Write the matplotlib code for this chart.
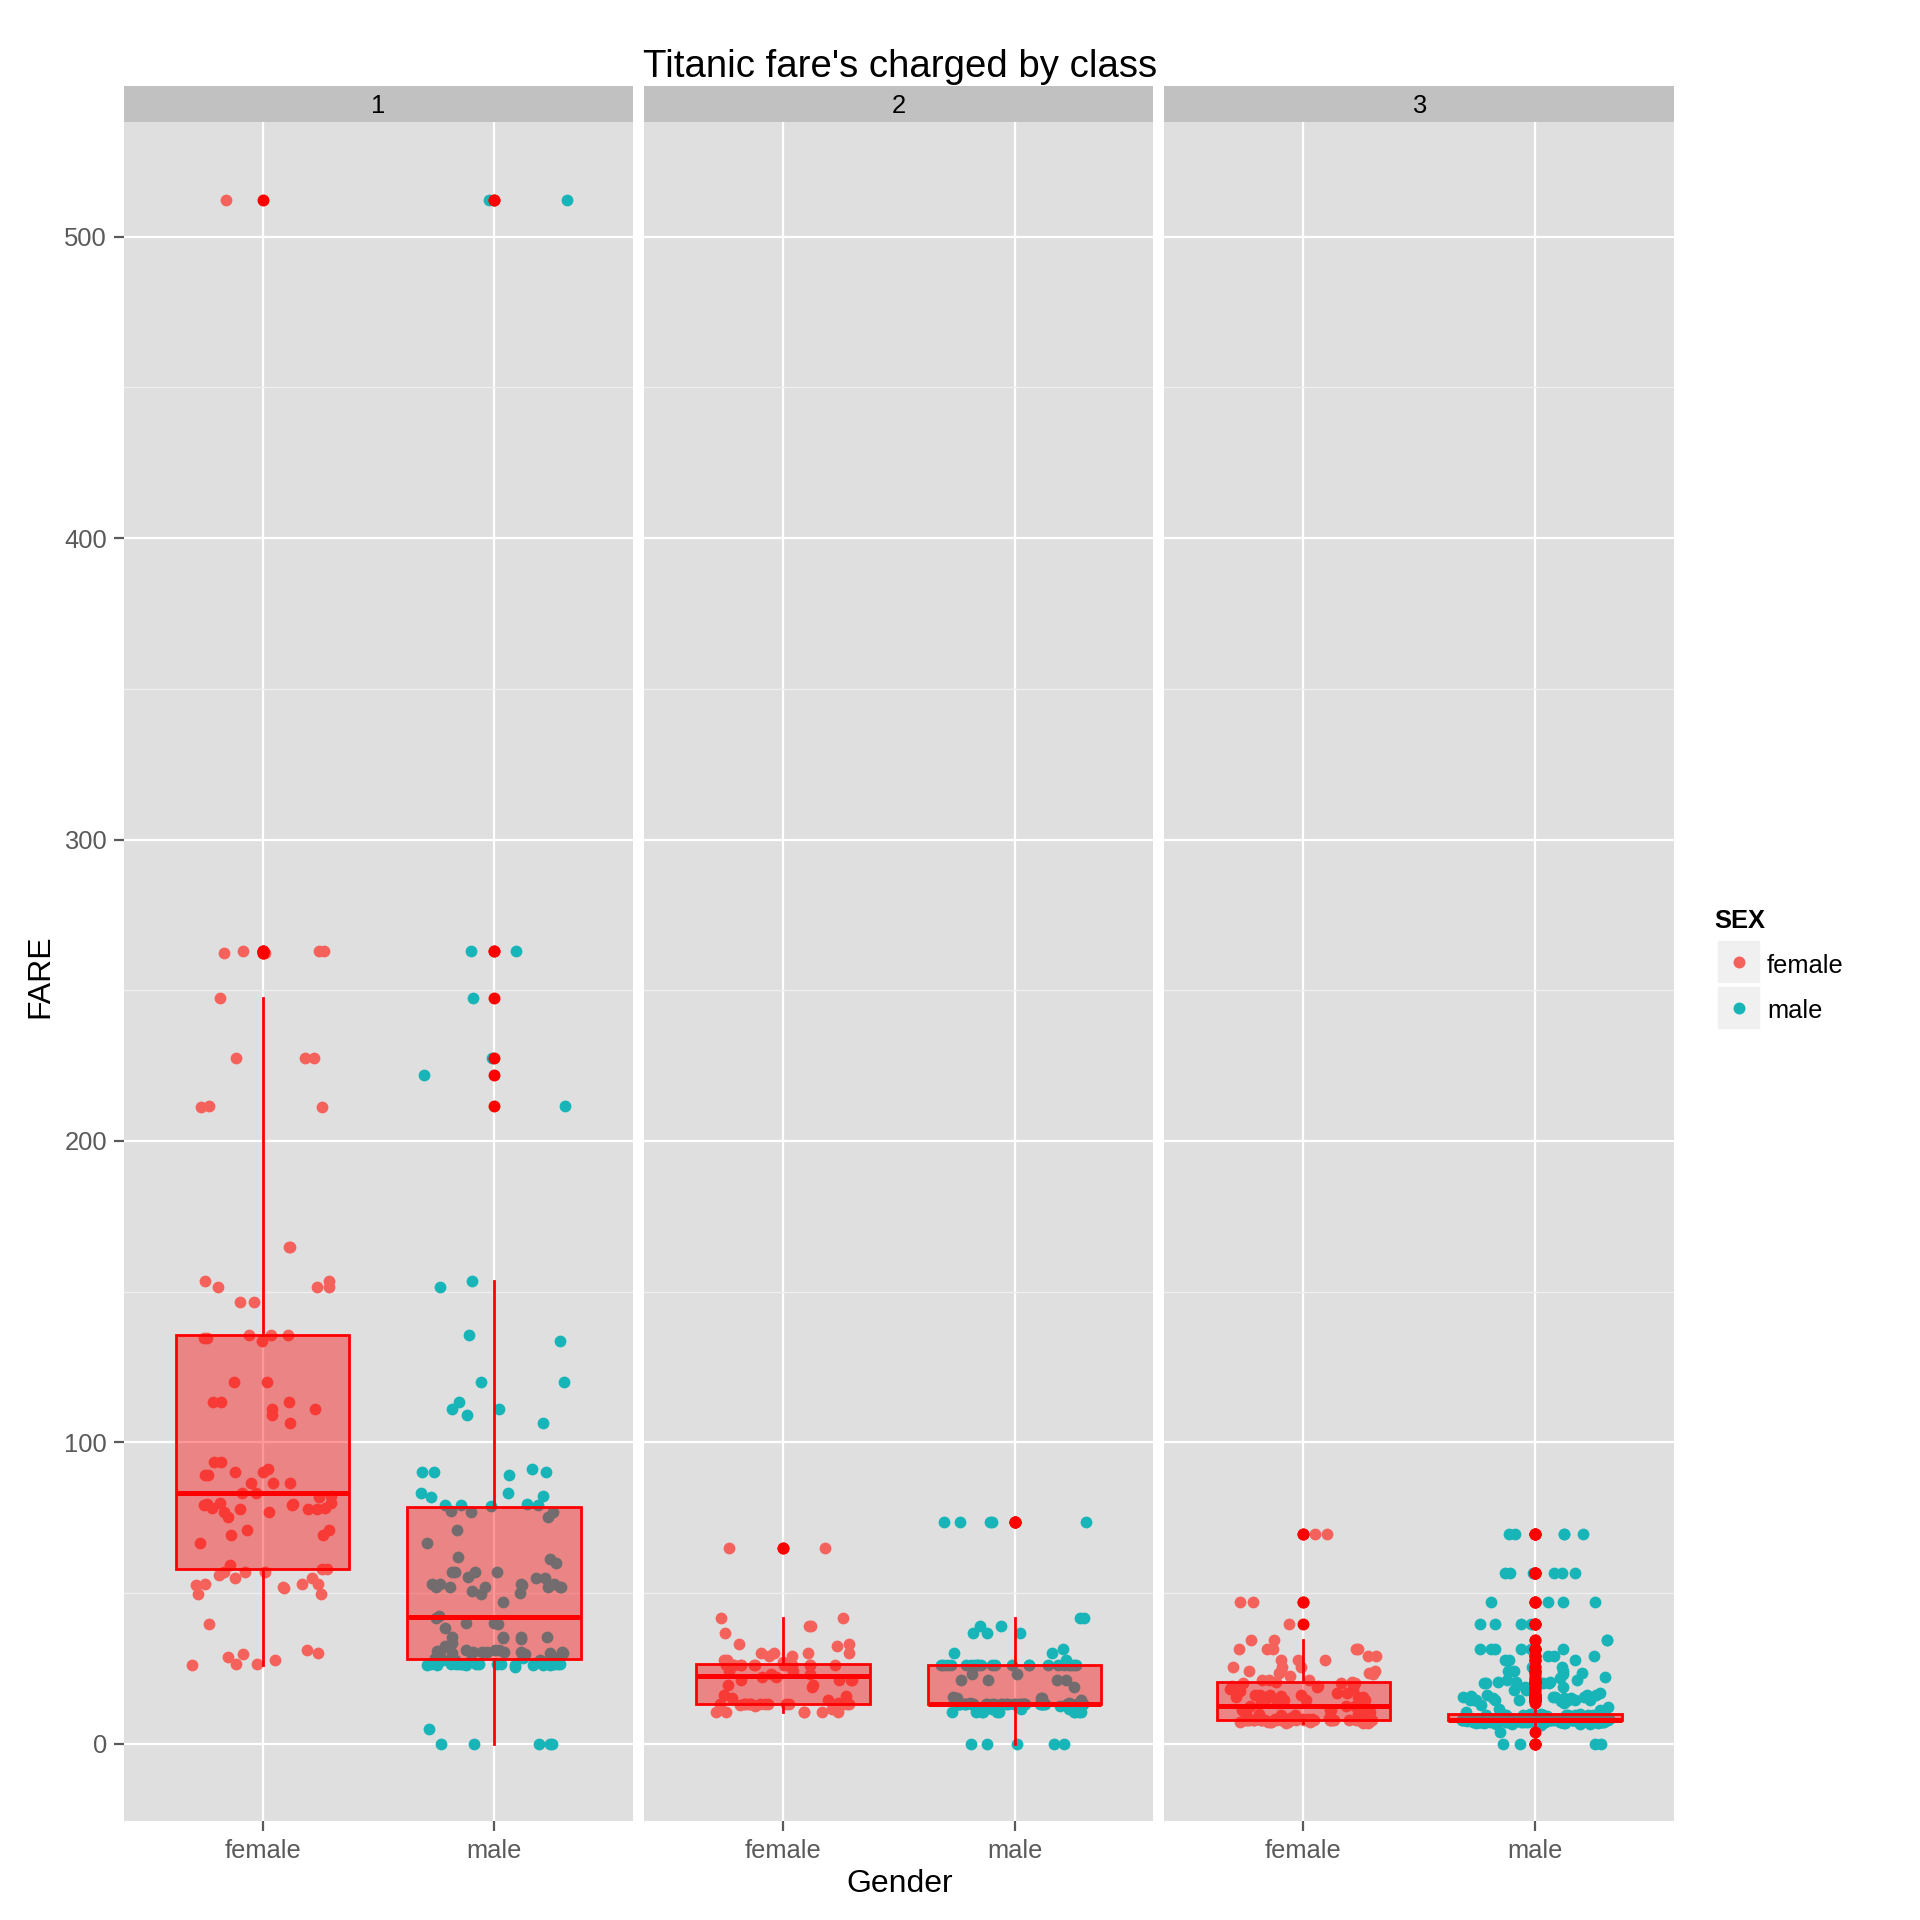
import numpy as np
import matplotlib
matplotlib.use('Agg')
import matplotlib.pyplot as plt
from matplotlib.patches import Rectangle
from matplotlib.lines import Line2D

plt.rcParams['font.family'] = ['Liberation Sans', 'DejaVu Sans']

classes = ['1', '2', '3']
genders = ['female', 'male']
colors = {'female': '#F5625C', 'male': '#17B4B8'}

# fares, one entry per passenger
fare_c1_female = ([25.9292, 26.2833, 26.55, 27.7208, 28.7125, 29.7, 30.0, 31.0, 39.6,
                   49.5, 49.5042, 51.4792, 51.8625, 52.5542] + [53.1]*3 + [55.0]*2 + [55.9]
                  + [56.9292]*2 + [57.0] + [57.9792]*2 + [59.4, 66.6] + [69.3]*2 + [71.0]*2
                  + [75.25] + [76.7292]*2 + [77.9583]*3 + [78.2667]*2 + [79.2]*2 + [79.65]*2
                  + [80.0]*2 + [81.8583, 82.1708] + [83.1583]*2 + [86.5]*3 + [89.1]*2 + [90.0]*2
                  + [91.0792] + [93.5]*2 + [106.425, 108.9] + [110.8833]*2 + [113.275]*3
                  + [120.0]*2 + [133.65] + [134.5]*2 + [135.6333]*3 + [146.5208]*2 + [151.55]*3
                  + [153.4625]*2 + [164.8667]*2 + [211.3375]*2 + [211.5] + [227.525]*3
                  + [247.5208] + [262.375]*2 + [263.0]*3 + [512.3292])

fare_c1_male = ([0.0]*5 + [5.0, 25.5875, 25.925] + [26.0]*6 + [26.2875]*3 + [26.55]*11
                + [27.7208]*3 + [27.75]*2 + [28.5]*3 + [29.7]*2 + [30.0]*3 + [30.5]*6
                + [30.6958]*2 + [31.0]*3 + [32.3208, 33.5, 34.6542, 35.0] + [35.5]*4
                + [38.5, 39.6] + [40.125]*2 + [41.5792, 42.4, 47.1, 49.5042, 50.0, 50.4958]
                + [51.8625]*2 + [52.0]*4 + [52.5542] + [53.1]*4 + [55.0]*2 + [55.4417]
                + [56.9292]*2 + [57.0]*2 + [60.0, 61.175, 61.9792, 66.6, 71.0, 75.25]
                + [76.7292]*2 + [77.2875, 78.85] + [79.2]*3 + [79.65, 81.8583, 82.1708]
                + [83.1583]*2 + [89.1] + [90.0]*3 + [91.0792, 106.425, 108.9] + [110.8833]*2
                + [113.275] + [120.0]*2 + [133.65, 135.6333, 151.55, 153.4625, 211.5,
                                           221.7792, 227.525, 247.5208] + [263.0]*2 + [512.3292]*2)

fare_c2_female = ([10.5]*6 + [11.5, 12.35, 12.65] + [13.0]*15 + [13.5, 14.5, 15.0458, 15.75, 16.0, 18.75]
                  + [19.5]*2 + [21.0]*4 + [22.0]*2 + [23.0]*2 + [24.0]*2 + [26.0]*12 + [26.25]*3
                  + [27.0] + [27.75]*2 + [29.0]*2 + [30.0]*2 + [30.0708]*2 + [32.5] + [33.0]*2
                  + [36.75] + [39.0]*2 + [41.5792]*2 + [65.0]*2)

fare_c2_male = ([0.0]*5 + [10.5]*10 + [11.5]*5 + [12.35] + [13.0]*40 + [13.5]*2 + [14.5] + [15.0]*2
                + [15.0458, 15.5, 18.75] + [21.0]*4 + [23.0]*2 + [26.0]*20 + [26.25]*2
                + [27.7208] + [30.0]*2 + [31.5] + [36.75]*3 + [39.0]*2 + [41.5792]*2 + [73.5]*5)

fare_c3_female = ([6.75]*2 + [6.975, 7.1417] + [7.225]*3 + [7.2292]*4 + [7.7333]*3 + [7.7375]
                  + [7.75]*13 + [7.775]*3 + [7.8542]*4 + [7.8792]*3 + [7.925]*6 + [8.0292]
                  + [8.05]*5 + [8.6625]*2 + [9.35] + [9.5875]*2 + [9.825, 9.8375, 10.4625, 10.5167]
                  + [11.1333]*3 + [12.2875] + [12.475]*3 + [13.4167, 13.775, 14.4] + [14.4542]*2
                  + [14.5] + [15.2458]*2 + [15.5]*4 + [15.7417] + [16.1]*4 + [16.7]*2 + [17.4]
                  + [18.0]*2 + [18.7875] + [19.2583]*2 + [19.9667] + [20.2125]*2 + [20.525, 20.575]
                  + [21.075]*3 + [22.3583, 23.25] + [23.45]*2 + [24.15]*3 + [25.4667]*3 + [27.9]*3
                  + [29.125]*2 + [31.275]*3 + [31.3875]*2 + [34.375]*2 + [39.6875] + [46.9]*2
                  + [69.55]*2)

fare_c3_male = ([0.0]*4 + [4.0125, 6.2375, 6.4375, 6.45] + [6.4958]*2 + [6.75, 6.8583, 6.95]
                + [6.975]*2 + [7.0458] + [7.05]*6 + [7.0542]*2 + [7.125]*4 + [7.1417] + [7.225]*5
                + [7.2292]*10 + [7.25]*13 + [7.3125] + [7.4958]*3 + [7.5208] + [7.55]*3
                + [7.5792, 7.6292] + [7.65]*4 + [7.725, 7.7292, 7.7333, 7.7375] + [7.75]*14
                + [7.775]*12 + [7.7875] + [7.7958]*6 + [7.8, 7.8292] + [7.8542]*8
                + [7.875, 7.8792, 7.8875] + [7.8958]*46 + [7.925]*10 + [8.0292] + [8.05]*40
                + [8.1125, 8.1375, 8.1583, 8.3, 8.3625, 8.4042, 8.4333, 8.4583, 8.5167, 8.6542]
                + [8.6625]*8 + [8.7125, 8.85] + [9.0]*2 + [9.2167] + [9.225]*2 + [9.35, 9.475, 9.4833]
                + [9.5]*9 + [9.5875, 9.825, 9.8417, 9.8458, 10.5, 11.1333, 11.5, 12.0]
                + [12.875, 13.4167, 14.1083] + [14.4]*2 + [14.4542]*3 + [14.5]*4 + [15.1]
                + [15.2458]*3 + [15.5]*3 + [15.55, 15.85] + [16.1]*3 + [16.7] + [17.8]*2
                + [18.7875]*2 + [19.9667] + [20.2125]*2 + [20.25] + [20.525]*2 + [20.575]
                + [21.075]*2 + [21.6792, 22.025, 23.25, 23.45] + [24.15]*3 + [25.4667]*2
                + [27.9]*3 + [29.125]*3 + [31.275]*4 + [31.3875]*2 + [34.375]*2 + [39.6875]*4
                + [46.9]*4 + [56.4958]*6 + [69.55]*5)

fares = {
    ('1', 'female'): fare_c1_female, ('1', 'male'): fare_c1_male,
    ('2', 'female'): fare_c2_female, ('2', 'male'): fare_c2_male,
    ('3', 'female'): fare_c3_female, ('3', 'male'): fare_c3_male,
}

yticks = [0, 100, 200, 300, 400, 500]
yminor = [50, 150, 250, 350, 450]
ymax = 512.3292

fig = plt.figure(figsize=(9.6, 9.6), dpi=200)
S = 1568.0
lefts = [101 / S, 526 / S, 951 / S]
pw = 416 / S
pb = 1 - 1487 / S
ph = (1487 - 100) / S
sh = 30 / S
tick_col = '#5A5A5A'

for i, c in enumerate(classes):
    ax = fig.add_axes([lefts[i], pb, pw, ph])
    ax.set_facecolor('#DFDFDF')
    for sp in ax.spines.values():
        sp.set_visible(False)
    ax.set_xlim(0.4, 2.6)
    ax.set_ylim(-0.05 * ymax, 1.05 * ymax)
    ax.set_xticks([1, 2])
    ax.set_xticklabels(genders)
    ax.set_yticks(yticks)
    ax.set_yticks(yminor, minor=True)
    ax.grid(which='major', color='white', lw=0.8)
    ax.grid(which='minor', axis='y', color='#EFEFEF', lw=0.45)
    ax.set_axisbelow(True)
    ax.tick_params(axis='both', which='major', colors=tick_col, labelsize=9.2,
                   length=3.5, width=0.8, pad=3.2)
    ax.tick_params(axis='y', which='major', pad=2.5)
    ax.tick_params(axis='y', which='minor', length=0)
    if i > 0:
        ax.tick_params(axis='y', which='major', length=0, labelleft=False)

    for j, g in enumerate(genders):
        vals = np.array(fares[(c, g)])
        # sideways spread like geom_jitter (deterministic, irregular sequence)
        k = np.arange(len(vals)) + 11 * i + 5 * j + 1
        offs = (((k * k) * 0.7071067812 + k * 0.3183098862) % 1.0 - 0.5) * 0.64
        ax.scatter(j + 1 + offs, vals, s=18, c=colors[g], linewidths=0, zorder=2)

    for j, g in enumerate(genders):
        ax.boxplot([fares[(c, g)]], positions=[j + 1], widths=0.75, whis=1.5,
                   patch_artist=True, showcaps=False, manage_ticks=False, zorder=3,
                   boxprops=dict(facecolor=(1, 0, 0, 0.4), edgecolor='red', linewidth=1.0),
                   medianprops=dict(color='red', linewidth=1.8),
                   whiskerprops=dict(color='red', linewidth=1.0),
                   flierprops=dict(marker='o', markerfacecolor='red', markeredgecolor='none',
                                   markersize=4.3))

    sax = fig.add_axes([lefts[i], pb + ph, pw, sh])
    sax.set_facecolor('#C1C1C1')
    sax.set_xticks([])
    sax.set_yticks([])
    for sp in sax.spines.values():
        sp.set_visible(False)
    sax.text(0.5, 0.45, c, ha='center', va='center', fontsize=9.2, color='black',
             transform=sax.transAxes)

fig.text(735 / S, 1 - 55 / S, "Titanic fare's charged by class", ha='center', va='center',
         fontsize=13.8)
fig.text(735 / S, 1 - 1539 / S, 'Gender', ha='center', va='center', fontsize=11.5)
fig.text(33 / S, 1 - 797 / S, 'FARE', ha='center', va='center', rotation=90, fontsize=11.5)

# legend
fig.text(1400 / S, 1 - 752 / S, 'SEX', ha='left', va='center', fontsize=9.2, fontweight='bold')
for n, g in enumerate(genders):
    top = 768 + 37 * n
    fig.add_artist(Rectangle((1402 / S, 1 - (top + 36) / S), 36 / S, 36 / S,
                             transform=fig.transFigure, facecolor='#F0F0F0', edgecolor='white',
                             lw=0.6))
    fig.add_artist(Line2D([1420 / S], [1 - (top + 18) / S], transform=fig.transFigure,
                          marker='o', ms=4.3, mfc=colors[g], mec='none', ls='none'))
    fig.text(1443 / S, 1 - (top + 21) / S, g, ha='left', va='center', fontsize=9.2)

fig.savefig('out.png', dpi=200)
